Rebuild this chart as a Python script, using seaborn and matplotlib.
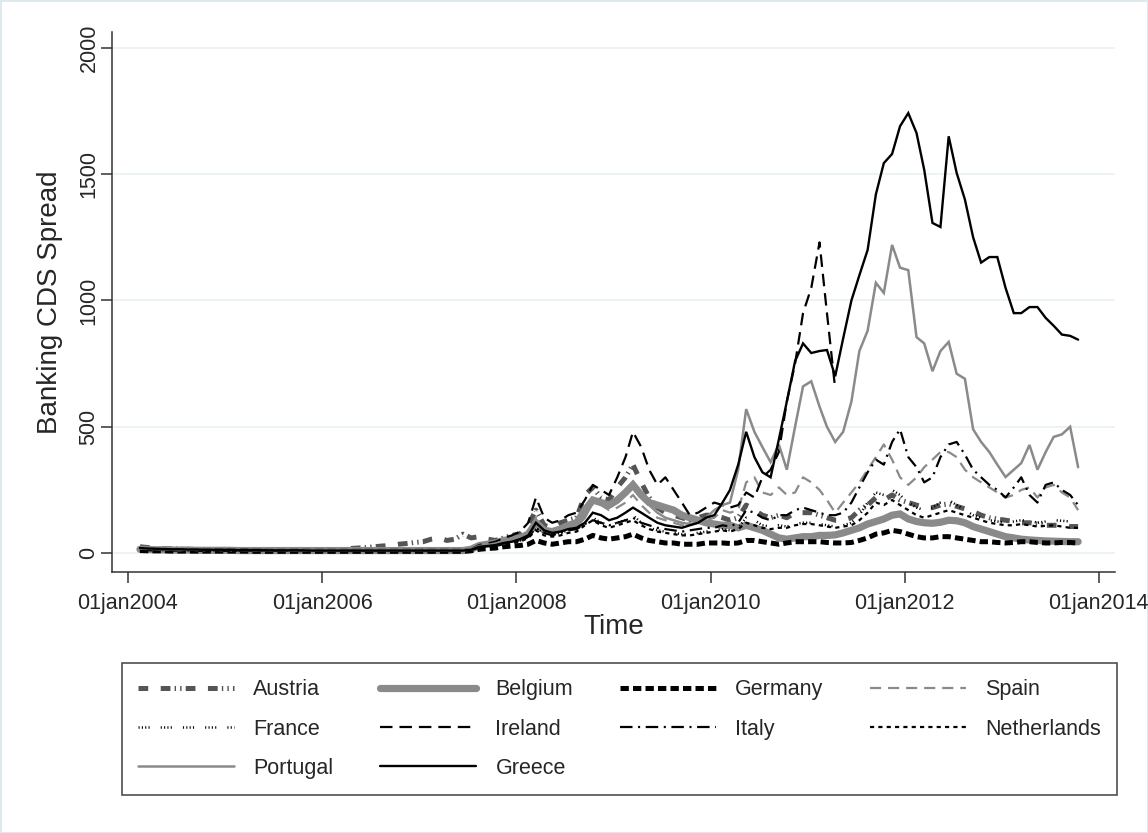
import numpy as np
import pandas as pd
import matplotlib
matplotlib.use("Agg")
import matplotlib.pyplot as plt
import seaborn as sns

nan = np.nan
# monthly observations, Feb 2004 .. Oct 2013
dates = pd.date_range("2004-02-01", periods=117, freq="MS") + pd.Timedelta(days=14)

austria = [25, 22, 20, 18, 17, 16, 15, 14, 14, 14, 13,
           13, 13, 12, 12, 12, 12, 12, 12, 12, 12, 12, 12,
           12, 12, 14, 18, 20, 22, 25, 28, 30, 35, 38, 42,
           45, 55, 60, 50, 55, 75, 60, 65, 55, 50, 60, 70,
           75, 110, 170, 110, 100, 120, 130, 140, 230, 260, 220, 210,
           260, 300, 350, 280, 220, 180, 160, 150, 140, 130, 140, 150,
           150, 140, 130, 140, 190, 170, 150, 140, 150, 140, 160, 160,
           160, 150, 140, 130, 130, 140, 170, 190, 220, 210, 230, 210,
           200, 190, 180, 180, 190, 195, 185, 175, 165, 150, 140, 135,
           130, 125, 120, 120, 115, 110, 110, 110, 105, 105]
belgium = [15, 14, 13, 13, 12, 12, 12, 11, 11, 11, 11,
           11, 10, 10, 10, 10, 10, 10, 10, 10, 10, 10, 10,
           10, 10, 10, 10, 10, 10, 10, 10, 10, 10, 10, 10,
           10, 10, 10, 10, 10, 10, 15, 30, 35, 40, 50, 55,
           60, 75, 120, 90, 85, 95, 110, 120, 170, 210, 200, 190,
           210, 240, 270, 230, 200, 190, 180, 170, 150, 140, 130, 120,
           115, 110, 110, 100, 110, 100, 90, 75, 60, 55, 60, 65,
           65, 70, 70, 72, 80, 90, 100, 115, 125, 135, 150, 155,
           135, 125, 120, 118, 122, 130, 128, 120, 105, 95, 85, 75,
           65, 60, 55, 52, 50, 48, 47, 46, 45, 45]
germany = [10, 9, 9, 9, 8, 8, 8, 8, 8, 8, 8,
           8, 8, 8, 7, 7, 7, 7, 7, 7, 7, 7, 7,
           7, 7, 7, 7, 7, 7, 7, 7, 7, 7, 7, 7,
           7, 7, 7, 7, 7, 7, 9, 15, 18, 20, 25, 28,
           30, 35, 50, 40, 35, 40, 45, 45, 55, 70, 60, 55,
           60, 65, 75, 60, 50, 45, 40, 40, 35, 35, 35, 40,
           40, 40, 38, 40, 50, 50, 45, 40, 35, 40, 45, 45,
           45, 45, 42, 40, 40, 42, 50, 60, 75, 80, 90, 85,
           75, 65, 60, 60, 65, 65, 60, 55, 50, 45, 45, 42,
           40, 42, 45, 45, 42, 40, 40, 42, 42, 40]
spain = [15, 14, 13, 12, 12, 11, 11, 11, 10, 10, 10,
         10, 10, 10, 10, 10, 9, 9, 9, 9, 9, 9, 9,
         9, 9, 9, 9, 9, 9, 9, 9, 9, 9, 9, 9,
         9, 9, 9, 10, 10, 10, 14, 28, 32, 38, 48, 55,
         65, 85, 140, 100, 90, 100, 110, 120, 160, 200, 190, 170,
         180, 200, 230, 190, 160, 140, 130, 120, 110, 110, 120, 130,
         140, 170, 160, 170, 280, 300, 240, 230, 260, 230, 240, 300,
         280, 250, 210, 160, 200, 240, 280, 330, 380, 430, 370, 300,
         270, 300, 340, 370, 400, 400, 380, 330, 300, 280, 260, 240,
         220, 230, 250, 260, 220, 260, 270, 240, 220, 170]
france = [14, 13, 12, 12, 11, 11, 11, 10, 10, 10, 10,
          10, 10, 9, 9, 9, 9, 9, 9, 9, 9, 9, 9,
          9, 9, 9, 9, 9, 9, 9, 9, 9, 9, 9, 9,
          9, 9, 9, 9, 9, 9, 12, 25, 28, 32, 40, 45,
          50, 65, 100, 80, 75, 80, 90, 95, 120, 140, 120, 110,
          120, 130, 150, 120, 100, 90, 85, 80, 75, 75, 80, 85,
          90, 95, 90, 100, 140, 130, 110, 105, 110, 105, 115, 120,
          120, 115, 110, 105, 110, 120, 150, 200, 240, 230, 250, 230,
          200, 180, 170, 180, 200, 210, 190, 170, 150, 140, 130, 125,
          120, 125, 130, 128, 120, 125, 130, 128, 125, 120]
ireland = [16, 15, 14, 13, 13, 12, 12, 12, 11, 11, 11,
           11, 11, 11, 10, 10, 10, 10, 10, 10, 10, 10, 10,
           10, 10, 10, 10, 10, 10, 10, 10, 10, 10, 10, 10,
           10, 10, 10, 11, 11, 11, 15, 32, 38, 45, 60, 70,
           85, 120, 220, 140, 120, 130, 150, 160, 210, 270, 250, 230,
           300, 380, 480, 420, 330, 270, 300, 250, 200, 150, 160, 180,
           200, 190, 180, 190, 240, 220, 300, 330, 400, 600, 750, 950,
           1050, 1230, 950, 650, nan, nan, nan, nan, nan, nan, nan, nan,
           nan, nan, nan, nan, nan, nan, nan, nan, nan, nan, nan, nan,
           nan, nan, nan, nan, nan, nan, nan, nan, nan, nan]
italy = [15, 14, 13, 12, 12, 12, 11, 11, 11, 11, 11,
         11, 10, 10, 10, 10, 10, 10, 10, 10, 10, 10, 10,
         10, 10, 10, 10, 10, 10, 10, 10, 10, 10, 10, 10,
         10, 10, 10, 10, 10, 10, 13, 25, 28, 32, 40, 45,
         50, 65, 100, 80, 70, 80, 90, 95, 115, 130, 120, 110,
         120, 130, 140, 120, 110, 100, 95, 90, 85, 90, 95, 100,
         100, 110, 105, 120, 170, 160, 140, 130, 150, 150, 170, 180,
         170, 160, 150, 150, 160, 200, 260, 320, 370, 350, 440, 490,
         380, 340, 280, 300, 380, 430, 440, 390, 330, 300, 270, 250,
         220, 260, 300, 230, 200, 270, 280, 250, 230, 190]
netherlands = [12, 11, 11, 10, 10, 10, 10, 9, 9, 9, 9,
               9, 9, 9, 9, 9, 9, 9, 8, 8, 8, 8, 8,
               8, 8, 8, 8, 8, 8, 8, 8, 8, 8, 8, 8,
               8, 8, 8, 8, 8, 8, 11, 22, 25, 28, 35, 40,
               45, 60, 90, 70, 65, 70, 80, 85, 110, 130, 110, 100,
               110, 120, 130, 110, 95, 85, 80, 75, 70, 70, 75, 80,
               85, 90, 85, 95, 120, 110, 100, 95, 100, 100, 110, 115,
               115, 110, 105, 100, 105, 110, 130, 160, 200, 190, 210, 190,
               170, 150, 140, 150, 160, 170, 160, 150, 140, 130, 120, 115,
               110, 110, 115, 110, 105, 108, 110, 105, 100, 100]
portugal = [18, 17, 16, 15, 15, 14, 14, 14, 13, 13, 13,
            13, 13, 12, 12, 12, 12, 12, 12, 11, 11, 11, 11,
            11, 11, 11, 11, 11, 11, 11, 11, 11, 11, 11, 11,
            11, 11, 11, 11, 11, 11, 14, 28, 32, 38, 48, 55,
            60, 75, 110, 90, 85, 90, 100, 105, 140, 200, 200, 180,
            200, 230, 280, 230, 190, 160, 140, 130, 120, 115, 120, 140,
            170, 190, 200, 330, 570, 480, 420, 360, 430, 330, 500, 660,
            680, 580, 500, 440, 480, 600, 800, 880, 1070, 1030, 1220, 1130,
            1120, 855, 830, 720, 800, 836, 710, 690, 490, 440, 400, 350,
            301, 330, 356, 428, 330, 400, 460, 470, 500, 340]
greece = [20, 18, 17, 16, 15, 15, 14, 14, 13, 13, 13,
          13, 12, 12, 12, 12, 11, 11, 11, 11, 11, 10, 10,
          10, 10, 10, 10, 10, 10, 10, 10, 10, 10, 10, 10,
          10, 10, 10, 10, 10, 10, 13, 25, 28, 32, 40, 45,
          55, 70, 120, 90, 80, 85, 95, 100, 120, 160, 150, 130,
          140, 160, 180, 160, 140, 120, 110, 105, 100, 110, 120, 140,
          150, 200, 250, 350, 480, 380, 320, 300, 450, 600, 760, 830,
          792, 800, 804, 700, 850, 1000, 1100, 1200, 1420, 1544, 1580, 1690,
          1742, 1663, 1517, 1307, 1291, 1650, 1505, 1400, 1250, 1150, 1172, 1172,
          1050, 950, 950, 974, 974, 931, 900, 865, 860, 845]

names = ["Austria", "Belgium", "Germany", "Spain", "France",
         "Ireland", "Italy", "Netherlands", "Portugal", "Greece"]
values = [austria, belgium, germany, spain, france,
          ireland, italy, netherlands, portugal, greece]

# style per series: colour, width (pt), dash pattern (points) or None
styles = {
    "Austria": ("#555555", 3.6, (7, 9, 7, 3, 1, 3, 1, 3)),
    "Belgium": ("#8a8a8a", 5.2, None),
    "Germany": ("#000000", 3.6, (6, 3)),
    "Spain": ("#8a8a8a", 1.6, (8, 5)),
    "France": ("#000000", 1.8, (0.8, 1.6, 0.8, 1.6, 0.8, 1.6, 0.8, 8)),
    "Ireland": ("#000000", 1.6, (9, 5)),
    "Italy": ("#000000", 1.6, (9, 4, 1.5, 4)),
    "Netherlands": ("#000000", 1.6, (3, 3)),
    "Portugal": ("#8a8a8a", 1.8, None),
    "Greece": ("#000000", 1.7, None),
}

sns.set_style("white")
plt.rcParams["font.family"] = ["Liberation Sans", "DejaVu Sans"]
plt.rcParams["lines.scale_dashes"] = False

fig = plt.figure(figsize=(11.48, 8.33), dpi=100)
fig.patch.set_facecolor("white")
fig.patch.set_edgecolor("#dfe8ec")
fig.patch.set_linewidth(2)
ax = fig.add_axes([0.0976, 0.3133, 0.8737, 0.6483])

handles = {}
for name, vals in zip(names, values):
    col, lw, dash = styles[name]
    df = pd.DataFrame({"date": dates, "v": vals}).dropna()
    sns.lineplot(data=df, x="date", y="v", ax=ax, color=col, linewidth=lw,
                 label=name, legend=False, estimator=None)
    ln = ax.lines[-1]
    ln.set_solid_joinstyle("miter")
    if dash is not None:
        ln.set_dashes(dash)
        ln.set_dash_capstyle("butt")
    handles[name] = ln

ax.set_xlim(pd.Timestamp("2003-11-02"), pd.Timestamp("2014-03-03"))
ax.set_ylim(-75, 2063)
ax.set_yticks([0, 500, 1000, 1500, 2000])
ax.set_yticklabels(["0", "500", "1000", "1500", "2000"], rotation=90, va="center")
xt = [pd.Timestamp(f"{y}-01-01") for y in range(2004, 2015, 2)]
ax.set_xticks(xt)
ax.set_xticklabels([f"01jan{y}" for y in range(2004, 2015, 2)])
ax.grid(axis="y", color="#eaf2f3", linewidth=1.3)
ax.grid(axis="x", visible=False)
ax.set_axisbelow(True)
for s in ["top", "right"]:
    ax.spines[s].set_visible(False)
for s in ["left", "bottom"]:
    ax.spines[s].set_color("#333333")
    ax.spines[s].set_linewidth(1.1)
ax.tick_params(axis="both", direction="out", length=8, width=1.1, color="#333333",
               labelsize=15.5, left=True, bottom=True)
ax.tick_params(axis="x", pad=7)
ax.tick_params(axis="y", pad=1)
ax.set_xlabel("Time", fontsize=20, labelpad=0)
ax.set_ylabel("Banking CDS Spread", fontsize=20)
ax.yaxis.set_label_coords(-0.049, 0.5)

order = ["Austria", "France", "Portugal", "Belgium", "Ireland", "Greece",
         "Germany", "Italy", "Spain", "Netherlands"]
leg = fig.legend([handles[n] for n in order], order, ncol=4,
                 loc="lower left", bbox_to_anchor=(0.1063, 0.0456, 0.8667, 0.1645),
                 mode="expand", fontsize=15.5, handlelength=4.45, handletextpad=0.9,
                 frameon=True, fancybox=False, borderpad=0.75, labelspacing=0.85,
                 borderaxespad=0)
leg.get_frame().set_edgecolor("#222222")
leg.get_frame().set_linewidth(1.2)

fig.savefig("out.png", dpi=100, facecolor="white", edgecolor=fig.get_edgecolor())
